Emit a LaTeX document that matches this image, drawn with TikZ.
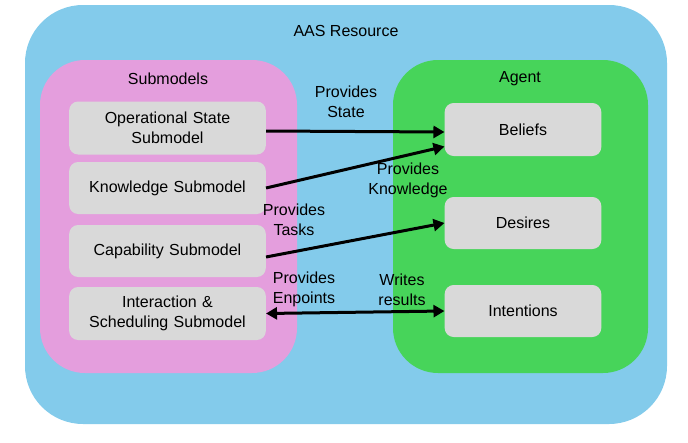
\documentclass[tikz,border=0pt]{standalone}
\usepackage{fontspec}
\setmainfont{Liberation Sans}
\usepackage{tikz}
\usetikzlibrary{arrows.meta}
\definecolor{aasblue}{HTML}{83CBEB}
\definecolor{smpink}{HTML}{E49EDD}
\definecolor{aggreen}{HTML}{47D45A}
\definecolor{boxgray}{HTML}{D9D9D9}
\tikzstyle{cont} = [rectangle, rounded corners=58pt, draw=none]
\tikzstyle{st} = [rectangle, rounded corners=9pt, minimum width=193pt, minimum height=53pt, text width=190pt, text centered, fill=boxgray, font=\fontsize{16}{20}\selectfont]
\tikzstyle{ag} = [st, minimum width=156pt, text width=150pt]
\tikzstyle{lbl} = [align=center, font=\fontsize{16}{20}\selectfont]
\tikzstyle{arrow} = [line width=3pt, -{Triangle[length=11pt,width=12pt]}]

\begin{document}
\begin{tikzpicture}[x=1pt, y=-1pt]
      \useasboundingbox (0,0) rectangle (688,442);
      % containers
      \node [cont, fill=aasblue, minimum width=642pt, minimum height=419pt] (aas) at (346,214.5) {};
      \node [cont, fill=smpink, rounded corners=45pt, minimum width=257pt, minimum height=313pt] (sm) at (168.5,216.5) {};
      \node [cont, fill=aggreen, rounded corners=45pt, minimum width=255pt, minimum height=313pt] (agent) at (520.5,216.5) {};
      \node [lbl] (aastitle) at (346,31) {AAS Resource};
      \node [lbl] (smtitle) at (168,79) {Submodels};
      \node [lbl] (agtitle) at (520,79) {Agent};
      % submodels
      \node [st] (os) at (167.5,128) {Operational State\\Submodel};
      \node [st, minimum height=52pt] (kn) at (167.5,188) {Knowledge Submodel};
      \node [st, minimum height=52pt] (cap) at (167.5,251) {Capability Submodel};
      \node [st] (inter) at (167.5,313.5) {Interaction \&\\Scheduling Submodel};
      % agent
      \node [ag] (bel) at (523,129.5) {Beliefs};
      \node [ag, minimum height=52pt] (des) at (523,223) {Desires};
      \node [ag, minimum height=52pt] (intn) at (523,311) {Intentions};
      % arrows
      \draw [arrow] ([yshift=-3pt]os.east) -- ([yshift=-2.5pt]bel.west);
      \draw [arrow] (kn.east) -- ([yshift=-17pt]bel.west);
      \draw [arrow] ([yshift=-6pt]cap.east) -- (des.west);
      \draw [arrow, {Triangle[length=11pt,width=12pt]}-{Triangle[length=11pt,width=12pt]}] (inter.east) -- (intn.west);
      % labels
      \node [lbl] (lstate) at (346,102) {Provides\\State};
      \node [lbl] (lknow) at (408,180) {Provides\\Knowledge};
      \node [lbl] (ltask) at (294,220) {Provides\\Tasks};
      \node [lbl] (lend) at (304,289) {Provides\\Enpoints};
      \node [lbl] (lwrite) at (402,290) {Writes\\results};
\end{tikzpicture}
\end{document}
